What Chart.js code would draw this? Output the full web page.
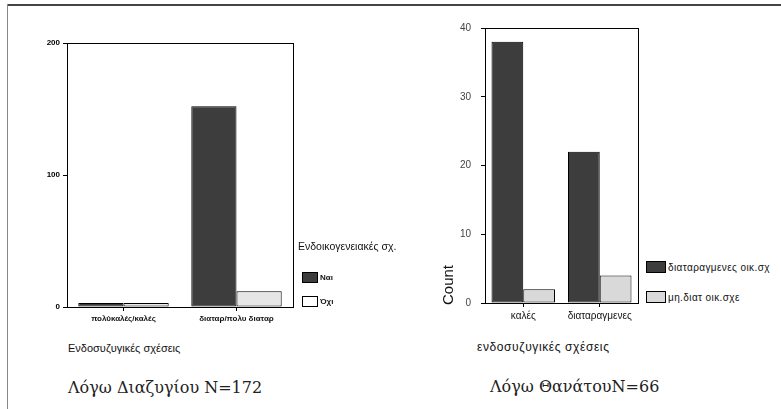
<!DOCTYPE html>
<html>
<head>
    <meta charset="UTF-8">
    <title>Ενδοσυζυγικές σχέσεις</title>
    <style>
        body {
            margin: 0;
            width: 781px;
            height: 409px;
            background: white;
            position: relative;
            overflow: hidden;
            font-family: "Liberation Sans", Arial, sans-serif;
            color: #111;
        }
        .frame-top { position: absolute; left: 7px; top: 4px; width: 774px; height: 2px; background: #444; }
        .frame-left { position: absolute; left: 7px; top: 4px; width: 1px; height: 405px; background: #888; }
        canvas { position: absolute; }
        .txt { position: absolute; white-space: nowrap; }
        .caption { font-family: "DejaVu Serif", serif; font-size: 16px; color: #222; }
        .legend-item { position: absolute; display: flex; align-items: center; white-space: nowrap; }
        .swatch { border: 1px solid #000; box-sizing: border-box; margin-right: 2px; }
    </style>
    <script src="https://cdn.jsdelivr.net/npm/chart.js"></script>
</head>
<body>
    <div class="frame-top"></div>
    <div class="frame-left"></div>

    <canvas id="graficoEsq" width="280" height="300" style="left:20px; top:33px;"></canvas>
    <canvas id="graficoDir" width="215" height="320" style="left:430px; top:12px;"></canvas>

    <div class="txt" style="left:298px; top:240px; font-size:10.5px;">Ενδοικογενειακές σχ.</div>
    <div id="legendaEsq"></div>
    <div class="txt" style="left:68px; top:342px; font-size:11px;">Ενδοσυζυγικές σχέσεις</div>
    <div class="txt caption" style="left:68px; top:378px;">Λόγω Διαζυγίου N=172</div>

    <div class="txt" style="left:447px; top:285px; font-size:15px; transform:translate(-50%,-50%) rotate(-90deg);">Count</div>
    <div id="legendaDir"></div>
    <div class="txt" style="left:477px; top:340px; font-size:12px; letter-spacing:0.6px;">ενδοσυζυγικές σχέσεις</div>
    <div class="txt caption" style="left:490px; top:377px;">Λόγω ΘανάτουN=66</div>

    <script>
        // dados do grafico da esquerda (Λόγω Διαζυγίου)
        var categoriasEsq = ['πολύκαλές/καλές', 'διαταρ/πολυ διαταρ'];
        var serieNai = [3, 152];
        var serieOxi = [3, 12];
        var nomesEsq = ['Ναι', 'Όχι'];
        var ticksEsq = [0, 100, 200];

        // dados do grafico da direita (Λόγω Θανάτου)
        var categoriasDir = ['καλές', 'διαταραγμενες'];
        var serieDiat = [38, 22];
        var serieMhDiat = [2, 4];
        var nomesDir = ['διαταραγμενες οικ.σχ', 'μη.διατ οικ.σχε'];
        var ticksDir = [0, 10, 20, 30, 40];

        var corEscura = '#3d3d3d';
        var corClara = '#d9d9d9';

        // desenha a caixa em volta da area do grafico
        var caixaPlugin = {
            id: 'caixa',
            afterDraw: function (chart) {
                var a = chart.chartArea;
                var ctx = chart.ctx;
                ctx.save();
                ctx.strokeStyle = '#000';
                ctx.lineWidth = 1;
                ctx.strokeRect(Math.round(a.left) + 0.5, Math.round(a.top) + 0.5,
                    Math.round(a.right - a.left), Math.round(a.bottom - a.top));
                ctx.restore();
            }
        };

        function criarGrafico(id, categorias, series, nomes, cores, ticks, opt) {
            var ctx = document.getElementById(id).getContext('2d');
            return new Chart(ctx, {
                type: 'bar',
                data: {
                    labels: categorias,
                    datasets: series.map(function (s, i) {
                        return {
                            label: nomes[i],
                            data: s,
                            backgroundColor: cores[i],
                            borderColor: '#000',
                            borderWidth: 1,
                            borderSkipped: false,
                            categoryPercentage: opt.catPct,
                            barPercentage: 1.0
                        };
                    })
                },
                options: {
                    responsive: false,
                    animation: false,
                    layout: { padding: { top: 10, right: 7, left: 0, bottom: 0 } },
                    plugins: { legend: { display: false }, tooltip: { enabled: false } },
                    scales: {
                        x: {
                            grid: { display: true, drawOnChartArea: false, offset: false, tickLength: 4, color: '#000' },
                            border: { color: '#000' },
                            ticks: { color: '#111', padding: 3, font: opt.xFont, maxRotation: 0 },
                            afterFit: function (s) { s.height = opt.xHeight; }
                        },
                        y: {
                            min: 0,
                            max: ticks[ticks.length - 1],
                            afterBuildTicks: function (s) {
                                s.ticks = ticks.map(function (v) { return { value: v }; });
                            },
                            grid: { display: true, drawOnChartArea: false, tickLength: 4, color: '#000' },
                            border: { color: '#000' },
                            ticks: { color: opt.yColor, padding: opt.yPad, font: opt.yFont },
                            afterFit: function (s) { s.width = opt.yWidth; }
                        }
                    }
                },
                plugins: [caixaPlugin]
            });
        }

        function criarLegenda(divId, nomes, cores, x, ys, box, fonte, espaco) {
            var div = document.getElementById(divId);
            nomes.forEach(function (n, i) {
                var item = document.createElement('div');
                item.className = 'legend-item';
                item.style.left = x + 'px';
                item.style.top = ys[i] + 'px';
                item.style.font = fonte;
                item.style.letterSpacing = espaco;
                item.style.height = box[1] + 'px';
                item.innerHTML = '<span class="swatch" style="display:inline-block;width:' + box[0] + 'px;height:' +
                    box[1] + 'px;background:' + cores[i] + '"></span>' + n;
                div.appendChild(item);
            });
        }

        criarGrafico('graficoEsq', categoriasEsq, [serieNai, serieOxi], nomesEsq, [corEscura, '#e6e6e6'], ticksEsq, {
            catPct: 0.8, xHeight: 26, yWidth: 47, yPad: 3, yColor: '#000',
            xFont: { family: 'Liberation Sans', size: 8, weight: 'bold' },
            yFont: { family: 'Liberation Sans', size: 8, weight: 'bold' }
        });

        criarGrafico('graficoDir', categoriasDir, [serieDiat, serieMhDiat], nomesDir, [corEscura, corClara], ticksDir, {
            catPct: 0.83, xHeight: 29, yWidth: 55, yPad: 10, yColor: '#444',
            xFont: { family: 'Liberation Sans', size: 10 },
            yFont: { family: 'Liberation Sans', size: 10 }
        });

        criarLegenda('legendaEsq', nomesEsq, [corEscura, '#ffffff'], 302, [272, 296], [16, 11], 'bold 8px "Liberation Sans"', '0px');
        criarLegenda('legendaDir', nomesDir, [corEscura, corClara], 646, [261, 291], [20, 12], '10px "Liberation Sans"', '0.4px');
    </script>
</body>
</html>
